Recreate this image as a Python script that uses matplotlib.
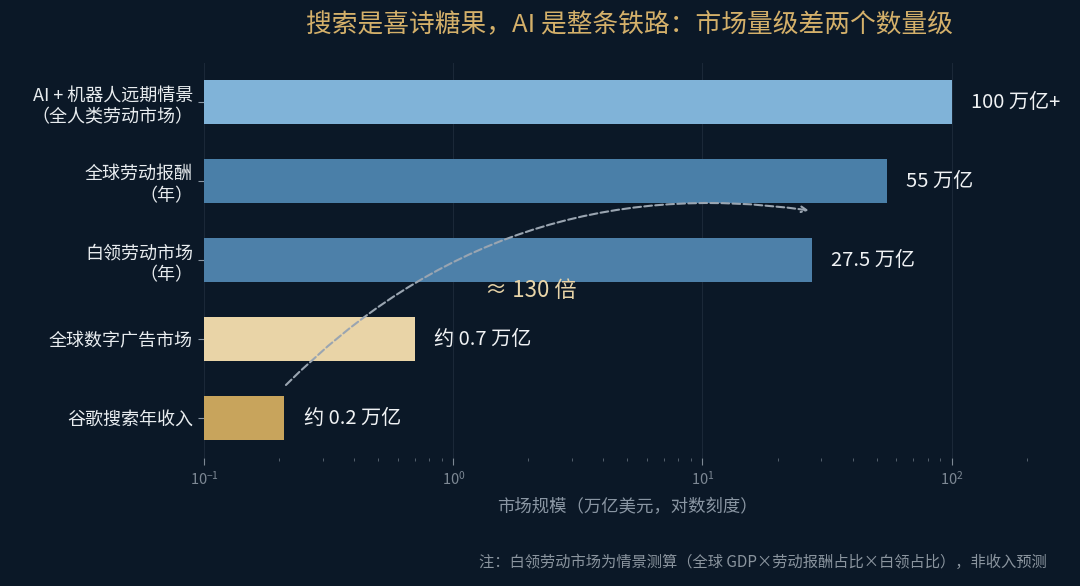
import numpy as np
import matplotlib
matplotlib.use('Agg')
import matplotlib.pyplot as plt

plt.rcParams['font.family'] = ['Noto Sans CJK SC', 'DejaVu Sans']
plt.rcParams['axes.unicode_minus'] = False

# data (万亿美元)
labels = ['谷歌搜索年收入', '全球数字广告市场', '白领劳动市场\n（年）',
          '全球劳动报酬\n（年）', 'AI + 机器人远期情景\n（全人类劳动市场）']
values = [0.21, 0.7, 27.5, 55, 100]
value_text = ['约 0.2 万亿', '约 0.7 万亿', '27.5 万亿', '55 万亿', '100 万亿+']
bar_colors = ['#c8a45c', '#e9d4a7', '#4d80a9', '#4a7fa8', '#80b3d8']

bg = '#0b1827'
fig = plt.figure(figsize=(10.8, 5.86), dpi=100, facecolor=bg)
ax = fig.add_axes([0.189, 0.219, 0.784, 0.674], facecolor=bg)

y = np.arange(len(values))
ax.barh(y, values, height=0.56, left=0, color=bar_colors, zorder=2)
ax.set_xscale('log')
ax.set_xlim(0.1, 250)
ax.set_ylim(-0.5, 4.5)

for yi, v, t in zip(y, values, value_text):
    ax.annotate(t, (v, yi), xytext=(14, 0), textcoords='offset points',
                va='center', ha='left', color='#f0f2f4', fontsize=14.5)

ax.set_yticks(y)
ax.set_yticklabels(labels, fontsize=13, color='#e8ecef', linespacing=1.3)
ax.tick_params(axis='y', colors='#8a96a3', labelcolor='#e8ecef', length=4, pad=4)
ax.tick_params(axis='x', which='major', colors='#7d8894', labelsize=10.5, length=5)
ax.tick_params(axis='x', which='minor', colors='#5f6b78', length=2)
for s in ax.spines.values():
    s.set_visible(False)
ax.grid(axis='x', which='major', color='#1b2838', lw=0.8, zorder=0)

ax.set_xlabel('市场规模（万亿美元，对数刻度）', color='#8a96a3', fontsize=12.5, labelpad=8)

# arrow between search and white-collar market
ax.annotate('', xy=(26.7, 2.63), xytext=(0.213, 0.42),
            arrowprops=dict(arrowstyle='->', color='#9aa5b1', lw=1.5, ls='--',
                            connectionstyle='arc3,rad=-0.25', shrinkA=0, shrinkB=0))
ax.text(2.04, 1.62, '≈ 130 倍', color='#e8d4a8', fontsize=16, ha='center', va='center')

fig.text(0.583, 0.957, '搜索是喜诗糖果，AI 是整条铁路：市场量级差两个数量级',
         color='#d4b06a', fontsize=18.5, ha='center', va='center')
fig.text(0.969, 0.04, '注：白领劳动市场为情景测算（全球 GDP×劳动报酬占比×白领占比），非收入预测',
         color='#8a949e', fontsize=11, ha='right', va='center')

fig.savefig('out.png', dpi=100, facecolor=bg)
